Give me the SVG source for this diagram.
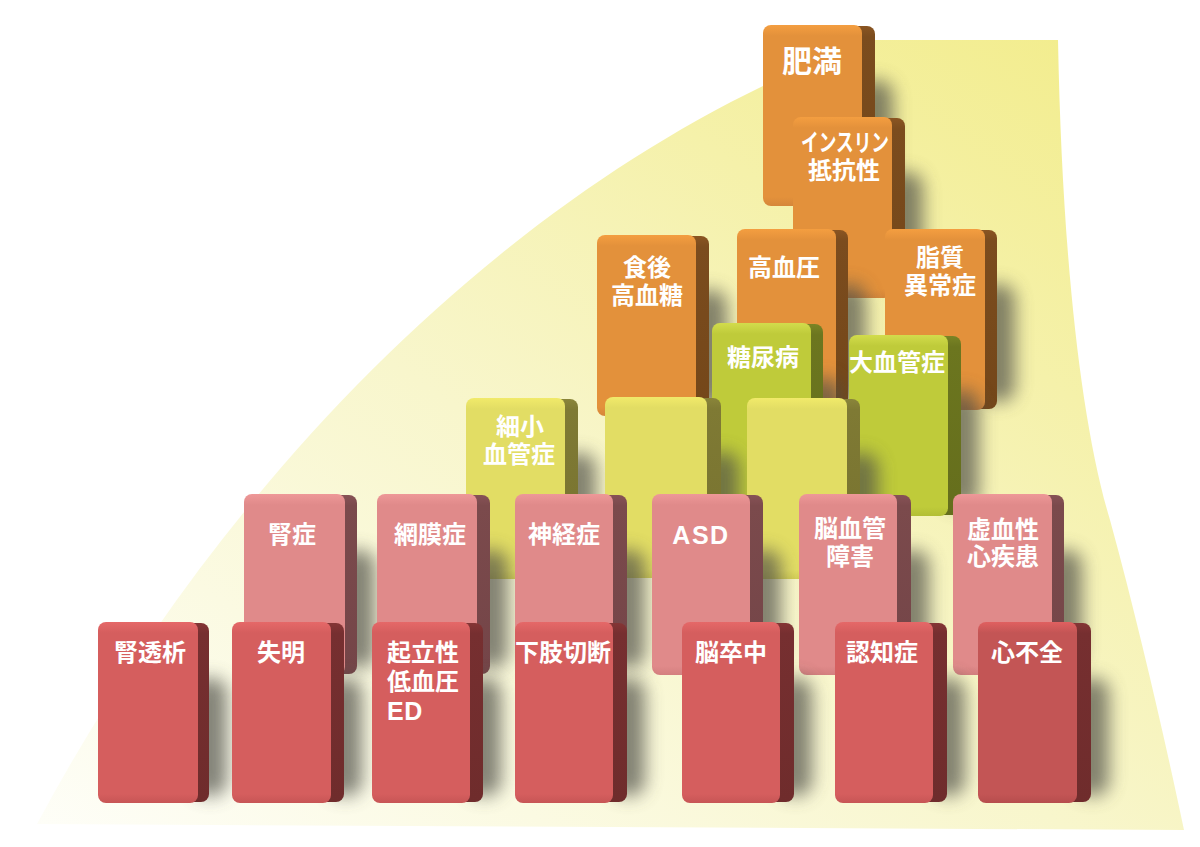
<svg xmlns="http://www.w3.org/2000/svg" width="1200" height="847" viewBox="0 0 1200 847">
<defs>
<linearGradient id="bg" x1="0" y1="1" x2="1" y2="0">
<stop offset="0" stop-color="#fefef8"/>
<stop offset="0.45" stop-color="#f8f6cc"/>
<stop offset="1" stop-color="#f2ec88"/>
</linearGradient>
<linearGradient id="fOr" x1="0" y1="0" x2="0" y2="1"><stop offset="0" stop-color="#f49e40"/><stop offset="0.06" stop-color="#e3913b"/><stop offset="0.95" stop-color="#e3913b"/><stop offset="1" stop-color="#d5863a"/></linearGradient>
<linearGradient id="sOr" x1="0" y1="0" x2="0" y2="1"><stop offset="0" stop-color="#8a5522"/><stop offset="0.06" stop-color="#7b4c1e"/><stop offset="1" stop-color="#744719"/></linearGradient>
<linearGradient id="fGr" x1="0" y1="0" x2="0" y2="1"><stop offset="0" stop-color="#d2dc4c"/><stop offset="0.06" stop-color="#bfcb3a"/><stop offset="0.95" stop-color="#bfcb3a"/><stop offset="1" stop-color="#b2be35"/></linearGradient>
<linearGradient id="sGr" x1="0" y1="0" x2="0" y2="1"><stop offset="0" stop-color="#7a8425"/><stop offset="0.06" stop-color="#6c761f"/><stop offset="1" stop-color="#656e1c"/></linearGradient>
<linearGradient id="fYe" x1="0" y1="0" x2="0" y2="1"><stop offset="0" stop-color="#f1ea6a"/><stop offset="0.06" stop-color="#e2dd64"/><stop offset="0.95" stop-color="#e2dd64"/><stop offset="1" stop-color="#d4cf55"/></linearGradient>
<linearGradient id="sYe" x1="0" y1="0" x2="0" y2="1"><stop offset="0" stop-color="#8a853a"/><stop offset="0.06" stop-color="#7f7a34"/><stop offset="1" stop-color="#77722f"/></linearGradient>
<linearGradient id="fPk" x1="0" y1="0" x2="0" y2="1"><stop offset="0" stop-color="#ee9898"/><stop offset="0.06" stop-color="#e08a8a"/><stop offset="0.95" stop-color="#e08a8a"/><stop offset="1" stop-color="#d47f7f"/></linearGradient>
<linearGradient id="sPk" x1="0" y1="0" x2="0" y2="1"><stop offset="0" stop-color="#875256"/><stop offset="0.06" stop-color="#7b4a4c"/><stop offset="1" stop-color="#744548"/></linearGradient>
<linearGradient id="fRd" x1="0" y1="0" x2="0" y2="1"><stop offset="0" stop-color="#e56868"/><stop offset="0.06" stop-color="#d55e5e"/><stop offset="0.95" stop-color="#d55e5e"/><stop offset="1" stop-color="#c75555"/></linearGradient>
<linearGradient id="sRd" x1="0" y1="0" x2="0" y2="1"><stop offset="0" stop-color="#843535"/><stop offset="0.06" stop-color="#762f30"/><stop offset="1" stop-color="#6f2c2c"/></linearGradient>
<linearGradient id="fRd2" x1="0" y1="0" x2="0" y2="1"><stop offset="0" stop-color="#e06060"/><stop offset="0.06" stop-color="#c35555"/><stop offset="0.95" stop-color="#c35555"/><stop offset="1" stop-color="#b64d4d"/></linearGradient>
<filter id="blur" x="-60%" y="-30%" width="220%" height="160%"><feGaussianBlur stdDeviation="9"/></filter>
</defs>
<style>
.sh{fill:#4f4f46;opacity:0.7;filter:url(#blur)}
.t{font-family:"Noto Sans CJK JP","Noto Sans",sans-serif;font-weight:700;font-size:24px;fill:#ffffff;text-anchor:middle}
.l{font-family:"Liberation Sans","Noto Sans",sans-serif;font-weight:700;font-size:25px;fill:#ffffff;letter-spacing:1.5px}
.or .fr{fill:url(#fOr)} .or .sd{fill:url(#sOr)}
.gr .fr{fill:url(#fGr)} .gr .sd{fill:url(#sGr)}
.ye .fr{fill:url(#fYe)} .ye .sd{fill:url(#sYe)}
.pk .fr{fill:url(#fPk)} .pk .sd{fill:url(#sPk)}
.rd .fr{fill:url(#fRd)} .rd .sd{fill:url(#sRd)}
.rd2 .fr{fill:url(#fRd2)} .rd2 .sd{fill:url(#sRd)}
</style>

<path id="background" d="M37,824 C235,455 540,160 872,40 L1058,40 C1062,250 1080,420 1110,520 C1140,630 1165,740 1184,830 Z" fill="url(#bg)"/>

<!-- orange -->
<g id="n-himan" class="or">
<rect class="sh" x="859" y="80" width="34" height="118" rx="15"/>
<rect class="sd" x="850" y="26" width="25" height="179" rx="8"/>
<rect class="fr" x="763" y="25" width="99" height="181" rx="8"/>
<text class="t" x="812" y="72" style="font-size:30px">肥満</text>
</g>
<g id="n-insulin" class="or">
<rect class="sh" x="889" y="172" width="34" height="118" rx="15"/>
<rect class="sd" x="880" y="118" width="25" height="179" rx="8"/>
<rect class="fr" x="793" y="117" width="99" height="181" rx="8"/>
<text class="t" x="845" y="151" textLength="88" lengthAdjust="spacingAndGlyphs">インスリン</text>
<text class="t" x="844" y="179">抵抗性</text>
</g>
<g id="n-shokugo" class="or">
<rect class="sh" x="693" y="290" width="34" height="118" rx="15"/>
<rect class="sd" x="684" y="236" width="25" height="179" rx="8"/>
<rect class="fr" x="597" y="235" width="99" height="181" rx="8"/>
<text class="t" x="647" y="276">食後</text>
<text class="t" x="647" y="304">高血糖</text>
</g>
<g id="n-koketsuatsu" class="or">
<rect class="sh" x="832" y="284" width="34" height="118" rx="15"/>
<rect class="sd" x="823" y="230" width="25" height="179" rx="8"/>
<rect class="fr" x="737" y="229" width="99" height="181" rx="8"/>
<text class="t" x="784" y="276">高血圧</text>
</g>
<g id="n-shishitsu" class="or">
<rect class="sh" x="981" y="284" width="34" height="118" rx="15"/>
<rect class="sd" x="972" y="230" width="25" height="179" rx="8"/>
<rect class="fr" x="885" y="229" width="100" height="181" rx="8"/>
<text class="t" x="940" y="266">脂質</text>
<text class="t" x="940" y="294">異常症</text>
</g>

<!-- green -->
<g id="n-tonyobyo" class="gr">
<rect class="sh" x="807" y="378" width="34" height="118" rx="15"/>
<rect class="sd" x="798" y="324" width="25" height="179" rx="8"/>
<rect class="fr" x="712" y="323" width="99" height="181" rx="8"/>
<text class="t" x="763" y="366">糖尿病</text>
</g>
<g id="n-daikekkan" class="gr">
<rect class="sh" x="945" y="390" width="34" height="118" rx="15"/>
<rect class="sd" x="936" y="336" width="25" height="179" rx="8"/>
<rect class="fr" x="849" y="335" width="99" height="181" rx="8"/>
<text class="t" x="897" y="371">大血管症</text>
</g>

<!-- yellow -->
<g id="n-saisho" class="ye">
<rect class="sh" x="562" y="453" width="34" height="118" rx="15"/>
<rect class="sd" x="553" y="399" width="25" height="179" rx="8"/>
<rect class="fr" x="466" y="398" width="99" height="181" rx="8"/>
<text class="t" x="520" y="435">細小</text>
<text class="t" x="519" y="463">血管症</text>
</g>
<g id="n-blank1" class="ye">
<rect class="sh" x="705" y="452" width="34" height="118" rx="15"/>
<rect class="sd" x="696" y="398" width="25" height="179" rx="8"/>
<rect class="fr" x="605" y="397" width="102" height="181" rx="8"/>
</g>
<g id="n-blank2" class="ye">
<rect class="sh" x="844" y="453" width="34" height="118" rx="15"/>
<rect class="sd" x="835" y="399" width="25" height="179" rx="8"/>
<rect class="fr" x="747" y="398" width="100" height="181" rx="8"/>
</g>

<!-- pink -->
<g id="n-jinsho" class="pk">
<rect class="sh" x="341" y="550" width="34" height="118" rx="15"/>
<rect class="sd" x="332" y="495" width="25" height="179" rx="8"/>
<rect class="fr" x="244" y="494" width="101" height="181" rx="8"/>
<text class="t" x="292" y="543">腎症</text>
</g>
<g id="n-momakusho" class="pk">
<rect class="sh" x="474" y="550" width="34" height="118" rx="15"/>
<rect class="sd" x="465" y="495" width="25" height="179" rx="8"/>
<rect class="fr" x="377" y="494" width="100" height="181" rx="8"/>
<text class="t" x="430" y="543">網膜症</text>
</g>
<g id="n-shinkeisho" class="pk">
<rect class="sh" x="611" y="550" width="34" height="118" rx="15"/>
<rect class="sd" x="602" y="495" width="25" height="179" rx="8"/>
<rect class="fr" x="515" y="494" width="98" height="181" rx="8"/>
<text class="t" x="564" y="543">神経症</text>
</g>
<g id="n-asd" class="pk">
<rect class="sh" x="747" y="550" width="34" height="118" rx="15"/>
<rect class="sd" x="738" y="495" width="25" height="179" rx="8"/>
<rect class="fr" x="652" y="494" width="98" height="181" rx="8"/>
<text class="l" x="701" y="544" text-anchor="middle">ASD</text>
</g>
<g id="n-nokekkan" class="pk">
<rect class="sh" x="895" y="550" width="34" height="118" rx="15"/>
<rect class="sd" x="886" y="495" width="25" height="179" rx="8"/>
<rect class="fr" x="799" y="494" width="98" height="181" rx="8"/>
<text class="t" x="850" y="537">脳血管</text>
<text class="t" x="850" y="565">障害</text>
</g>
<g id="n-kyoketsu" class="pk">
<rect class="sh" x="1048" y="550" width="34" height="118" rx="15"/>
<rect class="sd" x="1039" y="495" width="25" height="179" rx="8"/>
<rect class="fr" x="953" y="494" width="99" height="181" rx="8"/>
<text class="t" x="1003" y="538">虚血性</text>
<text class="t" x="1003" y="565">心疾患</text>
</g>

<!-- red -->
<g id="n-jintoseki" class="rd">
<rect class="sh" x="193" y="678" width="34" height="118" rx="15"/>
<rect class="sd" x="184" y="623" width="25" height="179" rx="8"/>
<rect class="fr" x="98" y="622" width="100" height="181" rx="8"/>
<text class="t" x="150" y="661">腎透析</text>
</g>
<g id="n-shitsumei" class="rd">
<rect class="sh" x="328" y="678" width="34" height="118" rx="15"/>
<rect class="sd" x="319" y="623" width="25" height="179" rx="8"/>
<rect class="fr" x="232" y="622" width="99" height="181" rx="8"/>
<text class="t" x="281" y="661">失明</text>
</g>
<g id="n-kiritsusei" class="rd">
<rect class="sh" x="467" y="678" width="34" height="118" rx="15"/>
<rect class="sd" x="458" y="623" width="25" height="179" rx="8"/>
<rect class="fr" x="372" y="622" width="98" height="181" rx="8"/>
<text class="t" x="387" y="661" style="text-anchor:start">起立性</text>
<text class="t" x="387" y="690" style="text-anchor:start">低血圧</text>
<text class="l" x="387" y="720" style="letter-spacing:0.5px">ED</text>
</g>
<g id="n-kashi" class="rd">
<rect class="sh" x="611" y="678" width="34" height="118" rx="15"/>
<rect class="sd" x="602" y="623" width="25" height="179" rx="8"/>
<rect class="fr" x="515" y="622" width="98" height="181" rx="8"/>
<text class="t" x="563" y="661">下肢切断</text>
</g>
<g id="n-nosotchu" class="rd">
<rect class="sh" x="778" y="678" width="34" height="118" rx="15"/>
<rect class="sd" x="769" y="623" width="25" height="179" rx="8"/>
<rect class="fr" x="682" y="622" width="98" height="181" rx="8"/>
<text class="t" x="731" y="661">脳卒中</text>
</g>
<g id="n-ninchisho" class="rd">
<rect class="sh" x="931" y="678" width="34" height="118" rx="15"/>
<rect class="sd" x="922" y="623" width="25" height="179" rx="8"/>
<rect class="fr" x="835" y="622" width="98" height="181" rx="8"/>
<text class="t" x="882" y="661">認知症</text>
</g>
<g id="n-shinfuzen" class="rd2">
<rect class="sh" x="1075" y="678" width="34" height="118" rx="15"/>
<rect class="sd" x="1066" y="623" width="25" height="179" rx="8"/>
<rect class="fr" x="978" y="622" width="99" height="181" rx="8"/>
<text class="t" x="1027" y="661">心不全</text>
</g>

<g id="connectors"></g>
</svg>
